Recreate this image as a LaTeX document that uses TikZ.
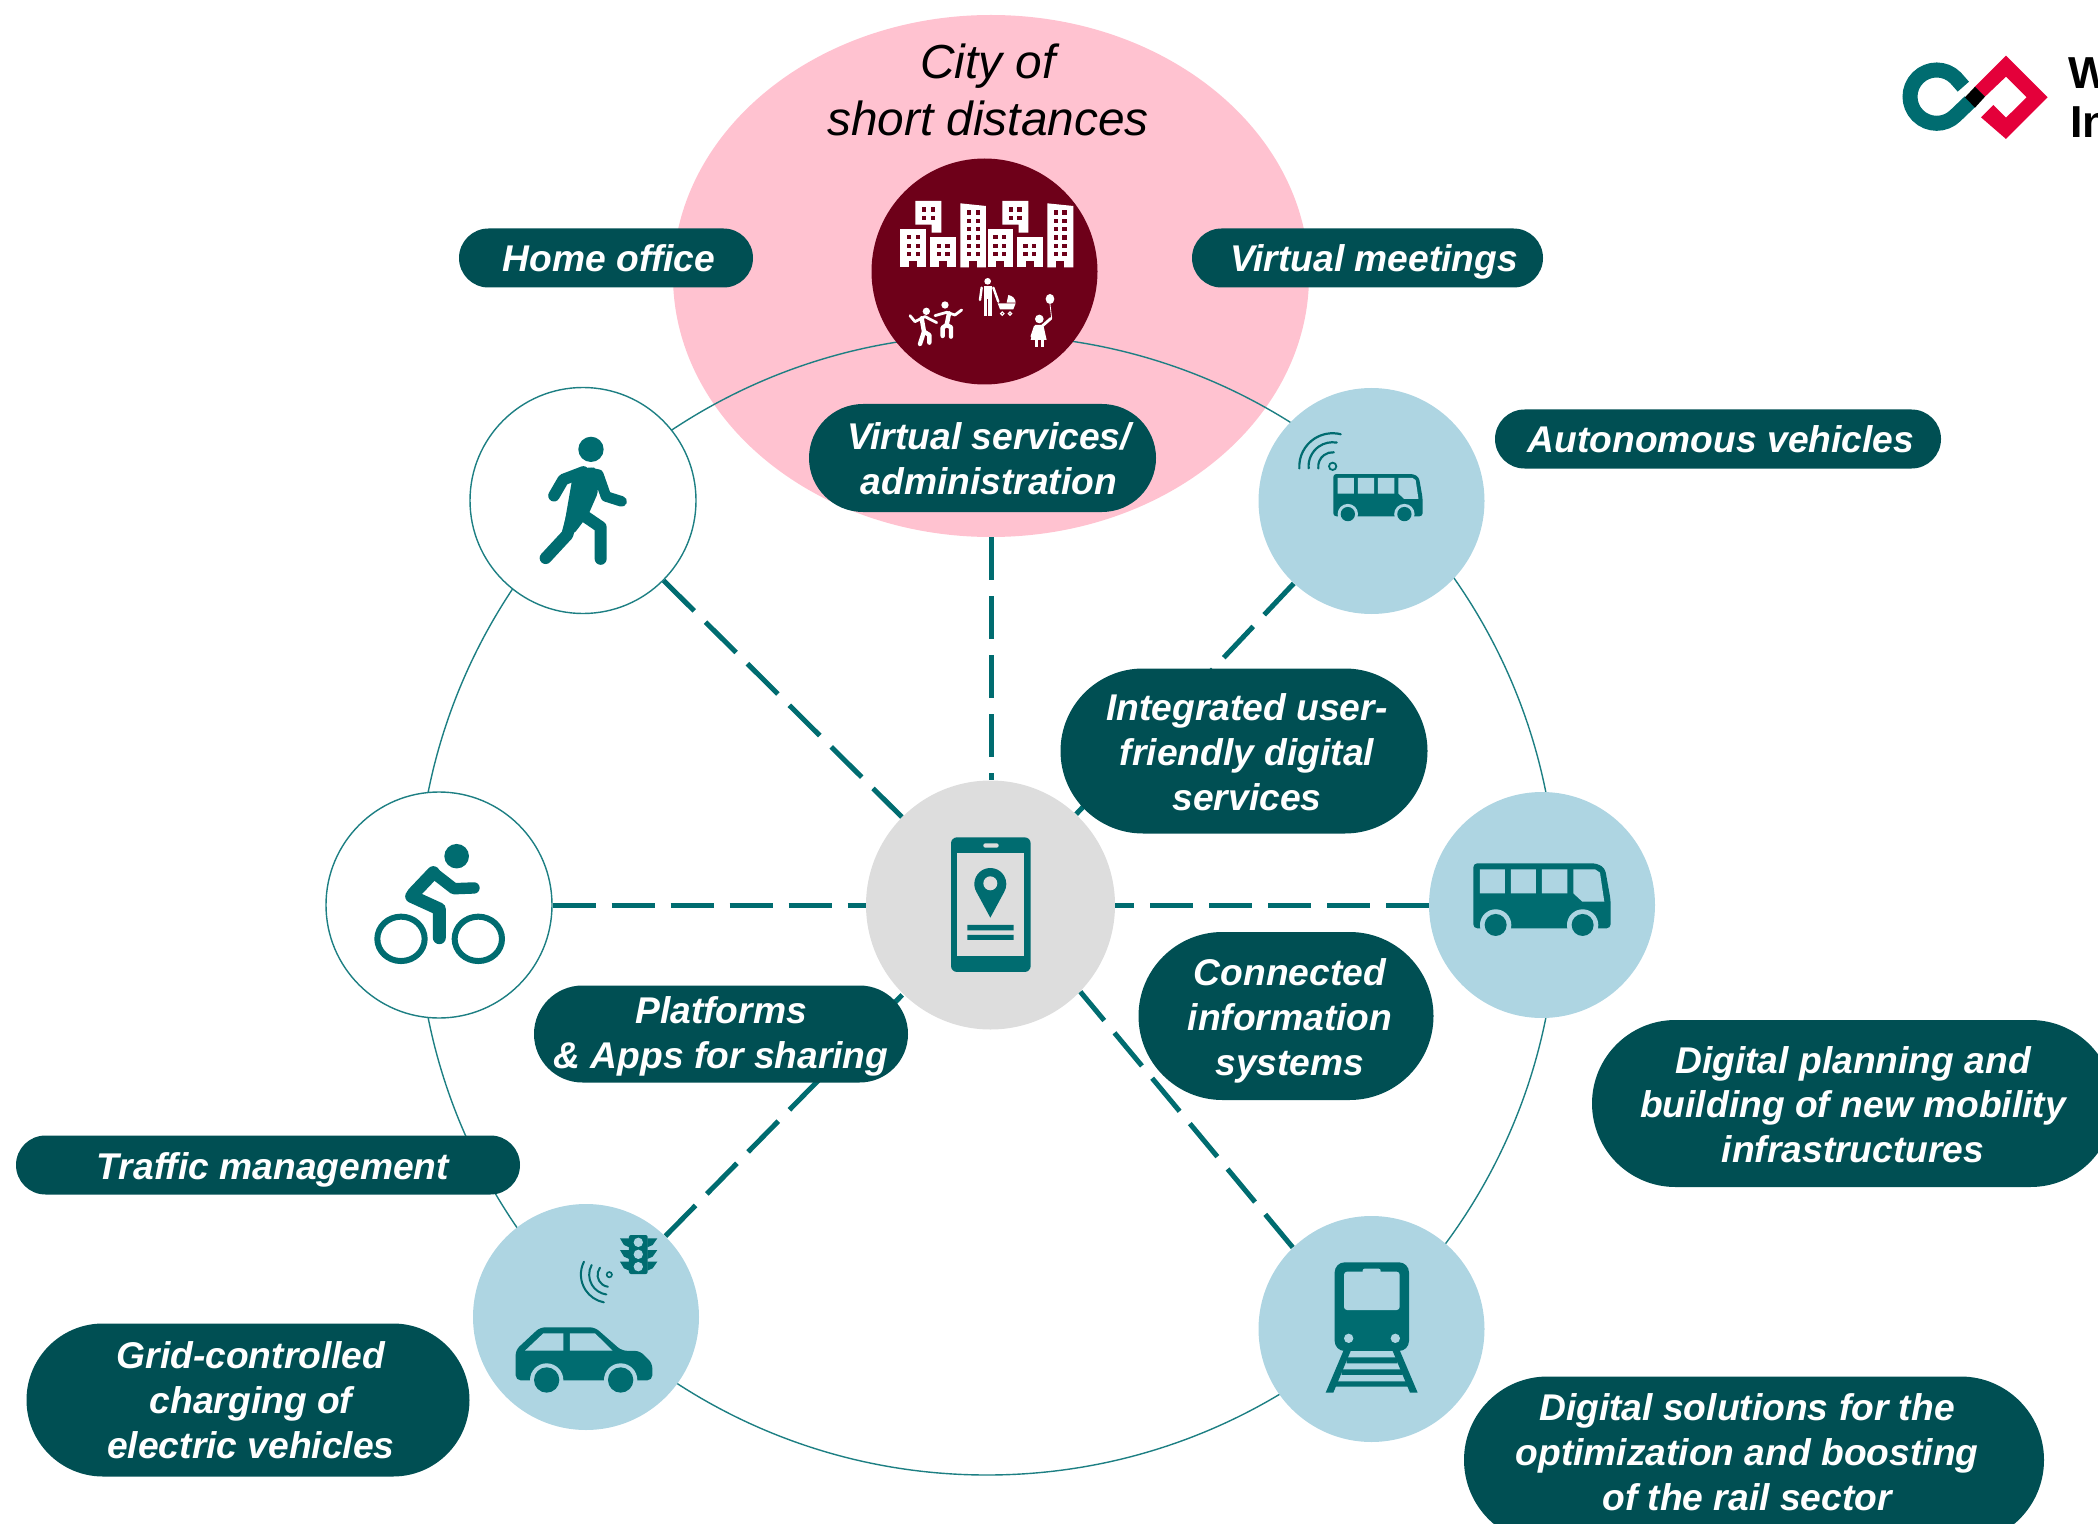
\documentclass[tikz,border=0pt]{standalone}
\usepackage{fontspec}
\setmainfont{Liberation Sans}
\usetikzlibrary{shapes.geometric,shapes.misc}
\definecolor{teal1}{HTML}{006C70}
\definecolor{pilldark}{HTML}{004F53}
\definecolor{ringc}{HTML}{1D7F83}
\definecolor{pinkc}{HTML}{FFC2D0}
\definecolor{citydark}{HTML}{6E0019}
\definecolor{lblue}{HTML}{AED5E2}
\definecolor{hubgrey}{HTML}{DDDDDD}
\definecolor{logored}{HTML}{E4003A}
\newcommand\cityblock[6]{%
  \fill[white] (#1,#3) -- (#2,#4) -- (#2,352) -- (#1,352) -- cycle;
  \fill[citydark] ({(#1+#2)/2-12},332) rectangle ({(#1+#2)/2+12},353);
  \foreach \wx in {#5}{\foreach \wy in {#6}{\fill[citydark] ({\wx-6.5},{\wy-6.5}) rectangle ++(13,13);}}%
}
% name, centre x, centre y, width, height (pt), text centre x, text centre y, text
\newcommand\pillbox[8]{%
  \node[pill,minimum width=#4pt,minimum height=#5pt] (#1) at (#2,#3) {};
  \node[pilltext] (#1-text) at (#6,#7) {#8};%
}
\tikzset{
  x=0.5pt,y=-0.5pt,
  modecircle/.style={circle,inner sep=0pt,minimum size=113pt},
  whitemode/.style={modecircle,fill=white,draw=ringc,line width=0.7pt},
  bluemode/.style={modecircle,fill=lblue},
  spoke/.style={teal1,line width=2.5pt,dash pattern=on 21.5pt off 8pt},
  pill/.style={rounded rectangle,fill=pilldark,inner sep=0pt},
  pilltext/.style={text=white,inner sep=0pt,align=center,
    font=\fontsize{18.6}{22.4}\selectfont\bfseries\itshape},
  zoomcs/.style args={#1,#2}{shift={(#1,#2)},scale=.3333},
  busicon/.pic={
    \fill[teal1,rounded corners=#1] (0,0) -- (370,0) -- (395,15) -- (412,110) -- (412,195) -- (0,195) -- cycle;
    \foreach \wx in {67,328}{
      \fill[lblue] (\wx,185) circle[radius=47];
      \fill[teal1] (\wx,185) circle[radius=33];}
    \fill[lblue] (20,18) rectangle (95,90) (113,18) rectangle (188,90) (206,18) rectangle (282,90);
    \fill[lblue] (300,18) -- (365,18) -- (380,28) -- (393,115) -- (327,115) -- (300,90) -- cycle;
  },
}
\begin{document}
\begin{tikzpicture}
\useasboundingbox (0,0) rectangle (2098,1524);
% background shapes
\node[ellipse,fill=pinkc,inner sep=0pt,minimum width=318pt,minimum height=261pt] (pink) at (991,276) {};
\node[circle,draw=ringc,line width=0.7pt,inner sep=0pt,minimum size=570pt] (ring) at (987,905) {};
% mode circles
\node[modecircle,fill=citydark] (city) at (984.5,271.5) {};
\node[whitemode] (walk) at (583,500.5) {};
\node[whitemode] (bike) at (439,905) {};
\node[bluemode] (auto) at (1371.5,501) {};
\node[bluemode] (bus) at (1542,905) {};
\node[bluemode] (car) at (586,1317) {};
\node[bluemode] (train) at (1371.5,1329) {};
\node[circle,fill=hubgrey,inner sep=0pt,minimum size=124.5pt] (hub) at (990.5,905) {};
% spokes
\draw[spoke] (pink.south) -- (pink.south |- hub.north);
\draw[spoke] (walk) -- (hub);
\draw[spoke] (auto) -- (hub);
\draw[spoke] (bus) -- (hub);
\draw[spoke] (bike) -- (hub);
\draw[spoke] (car) -- (hub);
\draw[spoke] (train.134) -- (hub.-44.5);
% pills
\pillbox{phome}{606}{258}{147}{29.5}{609}{258}{Home office}
\pillbox{pmeet}{1367.5}{258}{175.5}{29.5}{1374}{262}{Virtual meetings}
\pillbox{pserv}{982.5}{458}{173.5}{54}{989}{459}{Virtual services/\\administration}
\pillbox{pauto}{1718}{439}{223}{29.5}{1721}{439}{Autonomous vehicles}
\pillbox{pint}{1244}{751}{183.5}{82.5}{1247}{752}{Integrated user-\\friendly digital\\services}
\pillbox{pconn}{1286}{1016}{147.5}{84}{1290}{1021}{Connected\\information\\systems}
\pillbox{pplat}{721}{1034}{187}{48.5}{721}{1036}{Platforms\\\& Apps for sharing}
\pillbox{ptraf}{268}{1165}{252}{29.5}{273}{1170}{Traffic management}
\pillbox{pgrid}{248}{1400}{221.5}{76.5}{251}{1400}{Grid-controlled\\charging of\\electric vehicles}
\pillbox{pplan}{1853}{1103.5}{261}{83.5}{1853}{1104.5}{Digital planning and\\building of new mobility\\infrastructures}
\pillbox{prail}{1754}{1460}{290}{83.5}{1747}{1452}{Digital solutions for the\\optimization and boosting\\of the rail sector}
% city title
\node[align=center,inner sep=0pt,font=\fontsize{23.9}{28.8}\selectfont\itshape,text=black] (ctitle) at (988,90) {City of\\short distances};
% city icon
\begin{scope}[zoomcs={850,150}]
  \fill[white] (196,153) -- (274,153) -- (274,248) -- (245,248) -- (245,224) -- (196,224) -- cycle;
  \fill[white] (457,153) -- (535,153) -- (535,248) -- (506,248) -- (506,224) -- (457,224) -- cycle;
  \foreach \wx in {222,248}{\foreach \wy in {179,205}{\fill[citydark] ({\wx-6.5},{\wy-6.5}) rectangle ++(13,13);}}
  \foreach \wx in {483,509}{\foreach \wy in {179,205}{\fill[citydark] ({\wx-6.5},{\wy-6.5}) rectangle ++(13,13);}}
  \cityblock{151}{229}{237}{237}{177,203}{262,288,313}
  \cityblock{241}{319}{262}{262}{266,292}{288,313}
  \cityblock{331}{408}{160}{168}{357,383}{188,213,238,263,288,313}
  \cityblock{413}{489}{237}{237}{437,463}{262,288,313}
  \cityblock{502}{580}{262}{262}{527,553}{288,313}
  \cityblock{592}{670}{160}{168}{618,644}{188,213,238,263,288,313}
  % dancers
  \fill[white] (229,484) circle[radius=11] (285,465) circle[radius=11];
  \draw[white,line width=1.4pt,line cap=round,line join=round] (180,497) -- (195,515) -- (225,500) -- (260,518);
  \draw[white,line width=2.2pt,line cap=round,line join=round] (215,505) -- (222,545) -- (210,582);
  \draw[white,line width=2.2pt,line cap=round,line join=round] (222,545) -- (238,555) -- (238,578);
  \draw[white,line width=1.4pt,line cap=round,line join=round] (255,497) -- (290,487) -- (315,495) -- (335,480);
  \draw[white,line width=2.2pt,line cap=round,line join=round] (297,490) -- (290,525) -- (278,533) -- (278,558);
  \draw[white,line width=2.2pt,line cap=round,line join=round] (290,525) -- (303,532) -- (303,560);
  % parent with stroller
  \fill[white] (413,394) circle[radius=10];
  \fill[white] (401,408) rectangle (425,447);
  \draw[white,line width=1.2pt,line cap=round,line join=round] (395,413) -- (390,450);
  \draw[white,line width=1.2pt,line cap=round,line join=round] (430,413) -- (445,455);
  \draw[white,line width=1.6pt] (406,445) -- (406,497) (420,445) -- (420,497);
  \fill[white] (443,460) -- (497,460) -- (490,478) -- (450,478) -- cycle;
  \fill[white] (470,458) -- (475,435) .. controls (488,437) and (497,447) .. (497,458) -- cycle;
  \draw[white,line width=0.6pt] (457,491) circle[radius=5] (480,491) circle[radius=5];
  % child with balloon
  \fill[white] (568,507) circle[radius=13];
  \fill[white] (555,525) -- (580,525) -- (590,570) -- (542,570) -- cycle;
  \draw[white,line width=1.6pt] (560,570) -- (560,592) (578,570) -- (578,592);
  \draw[white,line width=1.4pt,line cap=round] (578,527) -- (603,505);
  \draw[white,line width=1.2pt,line cap=round] (555,530) -- (545,560);
  \draw[white,line width=0.4pt] (600,462) -- (605,505);
  \fill[white] (600,447) ellipse[x radius=13,y radius=15];
\end{scope}
% walker
\begin{scope}[shift={(350,400)},xscale=.3333,yscale=.3827]
  \fill[teal1] (723,129) circle[x radius=38,y radius=33];
  \fill[teal1,rounded corners=2pt] (668,200) -- (735,172) -- (745,240) -- (715,300) -- (670,352) -- (640,340) -- cycle;
  \draw[teal1,line width=5.8pt,line cap=round,line join=round] (612,250) -- (640,208) -- (700,188);
  \draw[teal1,line width=5.3pt,line cap=round,line join=round] (715,190) -- (745,195) -- (768,252) -- (815,265);
  \draw[teal1,line width=6pt,line cap=round,line join=round] (587,413) -- (652,352) -- (680,260);
  \draw[teal1,line width=6pt,line cap=round,line join=round] (690,295) -- (752,332) -- (752,415);
  % cyclist
  \fill[teal1] (320,1192) circle[x radius=37,y radius=32];
  \draw[teal1,line width=3pt] (153,1408) circle[x radius=71,y radius=58];
  \draw[teal1,line width=3pt] (385,1408) circle[x radius=71,y radius=58];
  \draw[teal1,line width=6.5pt,line cap=round,line join=round] (190,1290) -- (250,1235);
  \draw[teal1,line width=5.7pt,line cap=round,line join=round] (250,1235) -- (312,1277) -- (372,1275);
  \draw[teal1,line width=6.5pt,line cap=round,line join=round] (185,1297) -- (268,1330) -- (268,1405);
\end{scope}
% buses
\pic[scale=.3333] at (1473.3,863.3) {busicon=2pt};
\pic[scale=.2167] at (1333.3,474) {busicon=1.5pt};
% wifi on the autonomous bus
\begin{scope}[zoomcs={1250,390}]
  \draw[teal1,line width=0.9pt] (248,229) circle[radius=11];
  \draw[teal1,line width=1.1pt,line cap=round] (205,235) arc[start angle=-187,end angle=-85,radius=43];
  \draw[teal1,line width=1.1pt,line cap=round] (176,235) arc[start angle=-185,end angle=-80,radius=72];
  \draw[teal1,line width=1.1pt,line cap=round] (148,235) arc[start angle=-183,end angle=-76,radius=100];
\end{scope}
% car
\begin{scope}[zoomcs={470,1200}]
  \fill[teal1,rounded corners=2.5pt] (137,450) -- (210,382) -- (375,382) -- (455,452) -- (510,453) -- (547,490) -- (547,541) -- (137,541) -- cycle;
  \fill[lblue] (165,452) -- (220,400) -- (280,400) -- (280,452) -- cycle;
  \fill[lblue] (300,400) -- (375,400) -- (428,452) -- (300,452) -- cycle;
  \foreach \wx in {230,452}{
    \fill[lblue] (\wx,540) circle[radius=50];
    \fill[teal1] (\wx,540) circle[radius=38];}
  % traffic light
  \fill[teal1,rounded corners=1pt] (477,105) rectangle (533,222);
  \foreach \wy in {127,163,200}{\fill[lblue] (505,\wy) circle[radius=14];}
  \foreach \wy in {115,150,185}{
    \fill[teal1] (450,\wy) -- (478,\wy) -- (478,{\wy+27}) -- (462,{\wy+20}) -- cycle;
    \fill[teal1] (562,\wy) -- (532,\wy) -- (532,{\wy+27}) -- (548,{\wy+20}) -- cycle;}
  % wifi
  \draw[teal1,line width=0.8pt] (418,224) circle[radius=8];
  \draw[teal1,line width=1pt,line cap=round] (390,203) arc[start angle=-143,end angle=-262,radius=36];
  \draw[teal1,line width=1pt,line cap=round] (365,195) arc[start angle=-151,end angle=-262,radius=60];
  \draw[teal1,line width=1pt,line cap=round] (342,185) arc[start angle=-153,end angle=-259,radius=85];
\end{scope}
% train
\begin{scope}[zoomcs={1260,1220}]
  \fill[teal1] (250,393) -- (272,393) -- (220,518) -- (197,518) -- cycle;
  \fill[teal1] (398,393) -- (420,393) -- (473,518) -- (450,518) -- cycle;
  \fill[teal1] (260,412) rectangle (412,430) (245,448) rectangle (428,465) (225,484) rectangle (448,500);
  \fill[teal1,rounded corners=5pt] (224,127) rectangle (447,393);
  \fill[lblue,rounded corners=1.5pt] (252,155) rectangle (419,270);
  \fill[lblue,rounded corners=1pt] (308,146) rectangle (362,165);
  \fill[lblue] (266,355) circle[radius=14] (406,355) circle[radius=14];
\end{scope}
% phone
\begin{scope}[zoomcs={870,780}]
  \fill[teal1,rounded corners=3pt] (243,172) rectangle (482,576);
  \fill[hubgrey] (261,220) rectangle (463,527);
  \fill[hubgrey,rounded corners=1pt] (340,190) rectangle (386,203);
  \fill[teal1] (361,413) -- (319.4,336) arc[start angle=-210,end angle=30,radius=48] -- cycle;
  \fill[hubgrey] (361,310) circle[radius=21];
  \fill[teal1] (292,435) rectangle (431,451) (292,465) rectangle (431,480);
\end{scope}
% logo
\begin{scope}[zoomcs={1880,30}]
  \draw[teal1,line width=7.5pt] (250,170) -- (226.6,143.4) arc[start angle=-45,end angle=-315,radius=80] -- (270,215);
  \fill[logored] (315,200) -- (378,140) -- (440,202) -- (378,263) -- (340,225) -- (303,262) -- (378,327) -- (503,202) -- (378,77) -- (285,170) -- cycle;
  \fill[black] (285,170) -- (315,200) -- (285,233) -- (255,202) -- cycle;
\end{scope}
\node[anchor=base west,inner sep=0pt,font=\fontsize{22.4}{26}\selectfont\bfseries] (logoa) at (2068,89) {W};
\node[anchor=base west,inner sep=0pt,font=\fontsize{22.4}{26}\selectfont\bfseries] (logob) at (2070,138) {In};
\end{tikzpicture}
\end{document}
